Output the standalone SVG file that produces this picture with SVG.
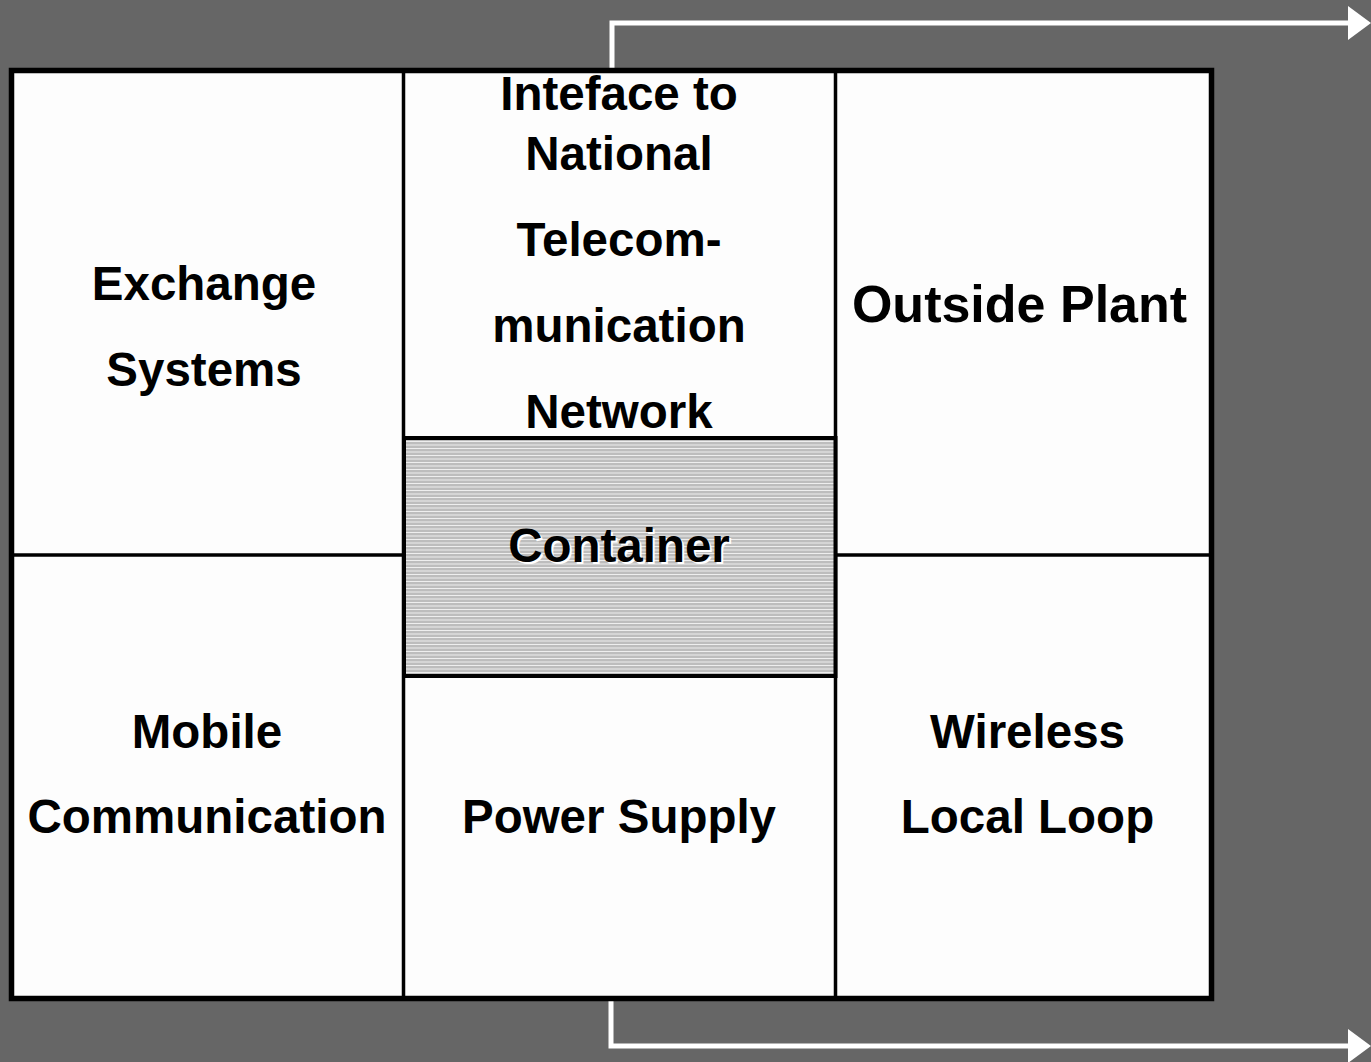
<svg xmlns="http://www.w3.org/2000/svg" width="1371" height="1062" viewBox="0 0 1371 1062">
<defs>
<pattern id="stripes" patternUnits="userSpaceOnUse" x="0" y="0" width="8" height="7">
<rect x="0" y="0" width="8" height="7" fill="#bdbdbd"/>
<rect x="0" y="0" width="8" height="1" fill="#eeeeee"/>
<rect x="0" y="3.5" width="8" height="1" fill="#eeeeee"/>
</pattern>
</defs>
<style>
.lbl{font-family:"Liberation Sans",Arial,sans-serif;font-weight:bold;font-size:47.5px;fill:#000;text-anchor:middle}
.big{font-size:52px}
.shadow{fill:#ffffff}
.div{stroke:#000;stroke-width:3.5;fill:none}
.conn{stroke:#ffffff;stroke-width:5;fill:none}
.head{fill:#ffffff}
</style>
<rect x="0" y="0" width="1371" height="1062" fill="#666666"/>
<g id="connectors">
<path class="conn" d="M612,70 V23 H1350"/>
<polygon class="head" points="1348,6 1371,23 1348,40"/>
<path class="conn" d="M611,999 V1046 H1350"/>
<polygon class="head" points="1348,1029 1371,1046 1348,1063"/>
</g>
<g id="frame">
<rect x="11.5" y="70.5" width="1200" height="928" fill="#fdfdfd" stroke="#000" stroke-width="5.5"/>
<line class="div" x1="403.5" y1="70" x2="403.5" y2="998"/>
<line class="div" x1="835.5" y1="70" x2="835.5" y2="998"/>
<line class="div" x1="11" y1="555" x2="403" y2="555"/>
<line class="div" x1="835" y1="555" x2="1211" y2="555"/>
</g>
<g id="exchange">
<text class="lbl" x="204" y="300">Exchange</text>
<text class="lbl" x="204" y="386">Systems</text>
</g>
<g id="interface">
<text class="lbl" x="619" y="110">Inteface to</text>
<text class="lbl" x="619" y="170">National</text>
<text class="lbl" x="619" y="256">Telecom-</text>
<text class="lbl" x="619" y="342">munication</text>
<text class="lbl" x="619" y="428">Network</text>
</g>
<g id="outside-plant">
<text class="lbl big" x="1019.5" y="322">Outside Plant</text>
</g>
<g id="container">
<rect x="404" y="438" width="431.5" height="238" fill="url(#stripes)" stroke="#000" stroke-width="4"/>
<text class="lbl shadow" x="621" y="564">Container</text>
<text class="lbl" x="619" y="562">Container</text>
</g>
<g id="mobile">
<text class="lbl" x="207" y="748">Mobile</text>
<text class="lbl" x="207" y="833">Communication</text>
</g>
<g id="power">
<text class="lbl" x="619" y="833">Power Supply</text>
</g>
<g id="wireless">
<text class="lbl" x="1027.5" y="748">Wireless</text>
<text class="lbl" x="1027.5" y="833">Local Loop</text>
</g>
</svg>
